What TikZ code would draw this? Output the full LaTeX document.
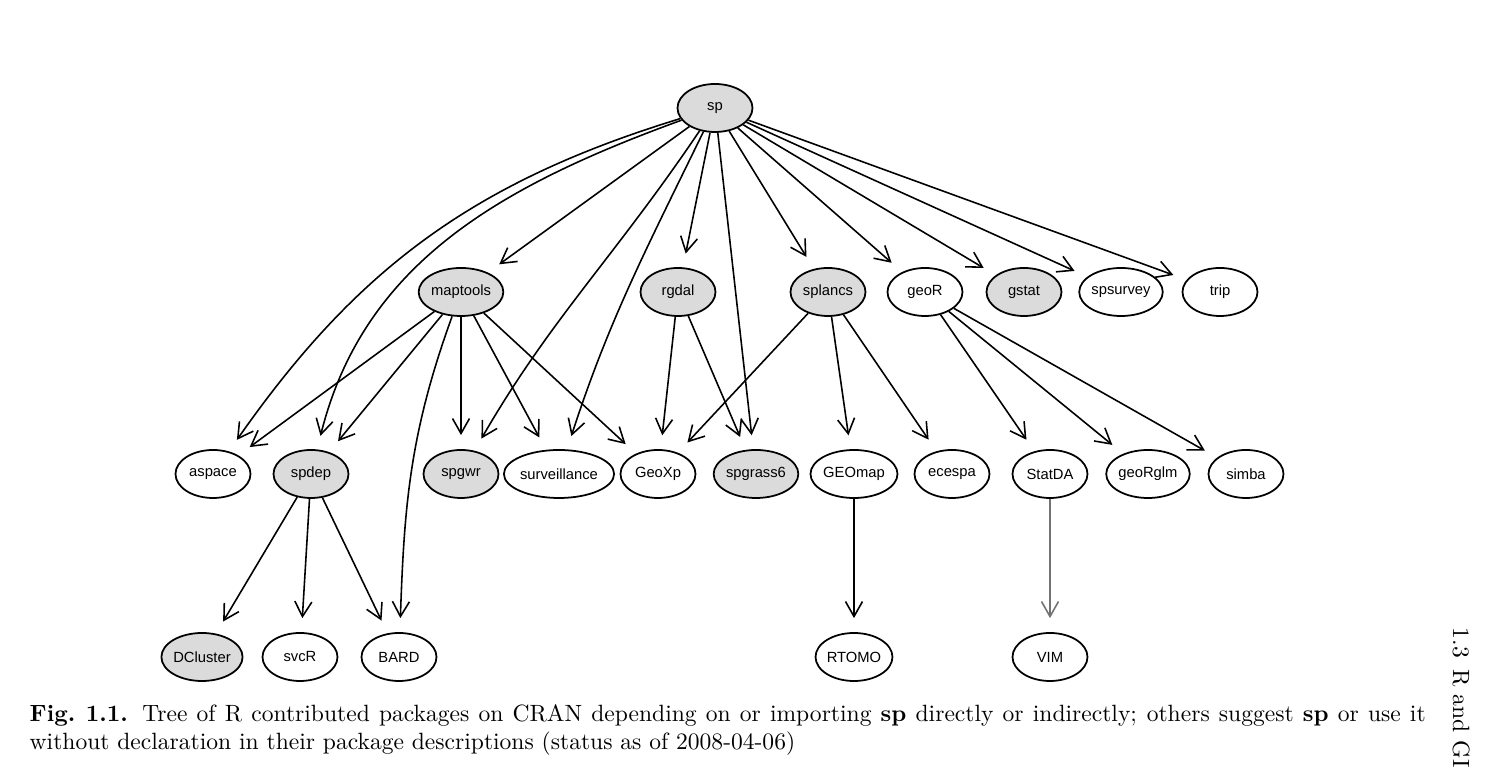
\documentclass[tikz,border=0pt]{standalone}
\usepackage{fontspec}
\setmainfont{lmroman10-regular.otf}[BoldFont=lmroman10-bold.otf, ItalicFont=lmroman10-italic.otf]
\newfontfamily\pkgfont{Liberation Sans}
\usetikzlibrary{arrows.meta,shapes.geometric}

\begin{document}
\begin{tikzpicture}[auto,
    pkg/.style={draw, ellipse, line width=0.5pt, minimum width=0.75cm, minimum height=0.48cm, inner sep=0pt, font=\pkgfont\fontsize{4.2}{4.2}\selectfont},
    dep/.style={pkg, fill=black!14},
    edge/.style={line width=0.45pt, -{Straight Barb[length=0.15cm, width=0.17cm]}, shorten >=0.14cm},
    txt/.style={inner sep=0pt, font=\fontsize{6.7}{7.97}\selectfont}]
    \useasboundingbox (0, 0) rectangle (15, 7.68);
    \node[dep] (sp) at (7.15, 6.60) {sp};
    \node[dep] (mt) at (4.61, 4.76) {maptools};
    \node[dep] (rg) at (6.78, 4.76) {rgdal};
    \node[dep] (spl) at (8.28, 4.76) {splancs};
    \node[pkg] (gr) at (9.25, 4.76) {geoR};
    \node[dep] (gs) at (10.24, 4.76) {gstat};
    \node[pkg] (sv) at (11.21, 4.76) {spsurvey};
    \node[pkg] (tr) at (12.20, 4.76) {trip};
    \node[pkg] (as) at (2.13, 2.94) {aspace};
    \node[dep] (sd) at (3.11, 2.94) {spdep};
    \node[dep] (gw) at (4.61, 2.94) {spgwr};
    \node[pkg] (su) at (5.59, 2.94) {surveillance};
    \node[pkg] (gx) at (6.58, 2.94) {GeoXp};
    \node[dep] (g6) at (7.56, 2.94) {spgrass6};
    \node[pkg] (gm) at (8.54, 2.94) {GEOmap};
    \node[pkg] (ec) at (9.52, 2.94) {ecespa};
    \node[pkg] (sa) at (10.50, 2.94) {StatDA};
    \node[pkg] (gg) at (11.48, 2.94) {geoRglm};
    \node[pkg] (si) at (12.46, 2.94) {simba};
    \node[dep] (dc) at (2.02, 1.11) {DCluster};
    \node[pkg] (sr) at (3.00, 1.11) {svcR};
    \node[pkg] (ba) at (3.99, 1.11) {BARD};
    \node[pkg] (rt) at (8.54, 1.11) {RTOMO};
    \node[pkg] (vm) at (10.50, 1.11) {VIM};
    \draw [edge] (sp) to[out=197, in=55] (as);
    \draw [edge] (sp) to[out=200, in=76] (sd);
    \draw [edge] (sp) to (mt);
    \draw [edge] (sp) to[out=236, in=60] (gw);
    \draw [edge] (sp) to[out=244, in=72] (su);
    \draw [edge] (sp) to (rg);
    \draw [edge] (sp) to (g6);
    \draw [edge] (sp) to (spl);
    \draw [edge] (sp) to (gr);
    \draw [edge] (sp) to (gs);
    \draw [edge] (sp) to (sv);
    \draw [edge] (sp) to (tr);
    \draw [edge] (mt) to (as);
    \draw [edge] (mt) to (sd);
    \draw [edge] (mt) to[out=250, in=88] (ba);
    \draw [edge] (mt) to (gw);
    \draw [edge] (mt) to (su);
    \draw [edge] (mt) to (gx);
    \draw [edge] (rg) to (gx);
    \draw [edge] (rg) to (g6);
    \draw [edge] (spl) to (gx);
    \draw [edge] (spl) to (gm);
    \draw [edge] (spl) to (ec);
    \draw [edge] (gr) to (sa);
    \draw [edge] (gr) to (gg);
    \draw [edge] (gr) to (si);
    \draw [edge] (sd) to (dc);
    \draw [edge] (sd) to (sr);
    \draw [edge] (sd) to (ba);
    \draw [edge] (gm) to (rt);
    \draw [edge, draw=black!55] (sa) to (vm);
    \node[txt, anchor=north west, text width=13.96cm, align=justify] (cap) at (0.29, 0.645) {\textbf{Fig.~1.1.} Tree of R contributed packages on CRAN depending on or importing \textbf{sp} directly or indirectly; others suggest \textbf{sp} or use it\linebreak without declaration in their package descriptions (status as of 2008-04-06)};
    \node[txt, rotate=-90, anchor=base west] (hd) at (14.53, 1.41) {1.3\enspace R and GI};
  \end{tikzpicture}
\end{document}
